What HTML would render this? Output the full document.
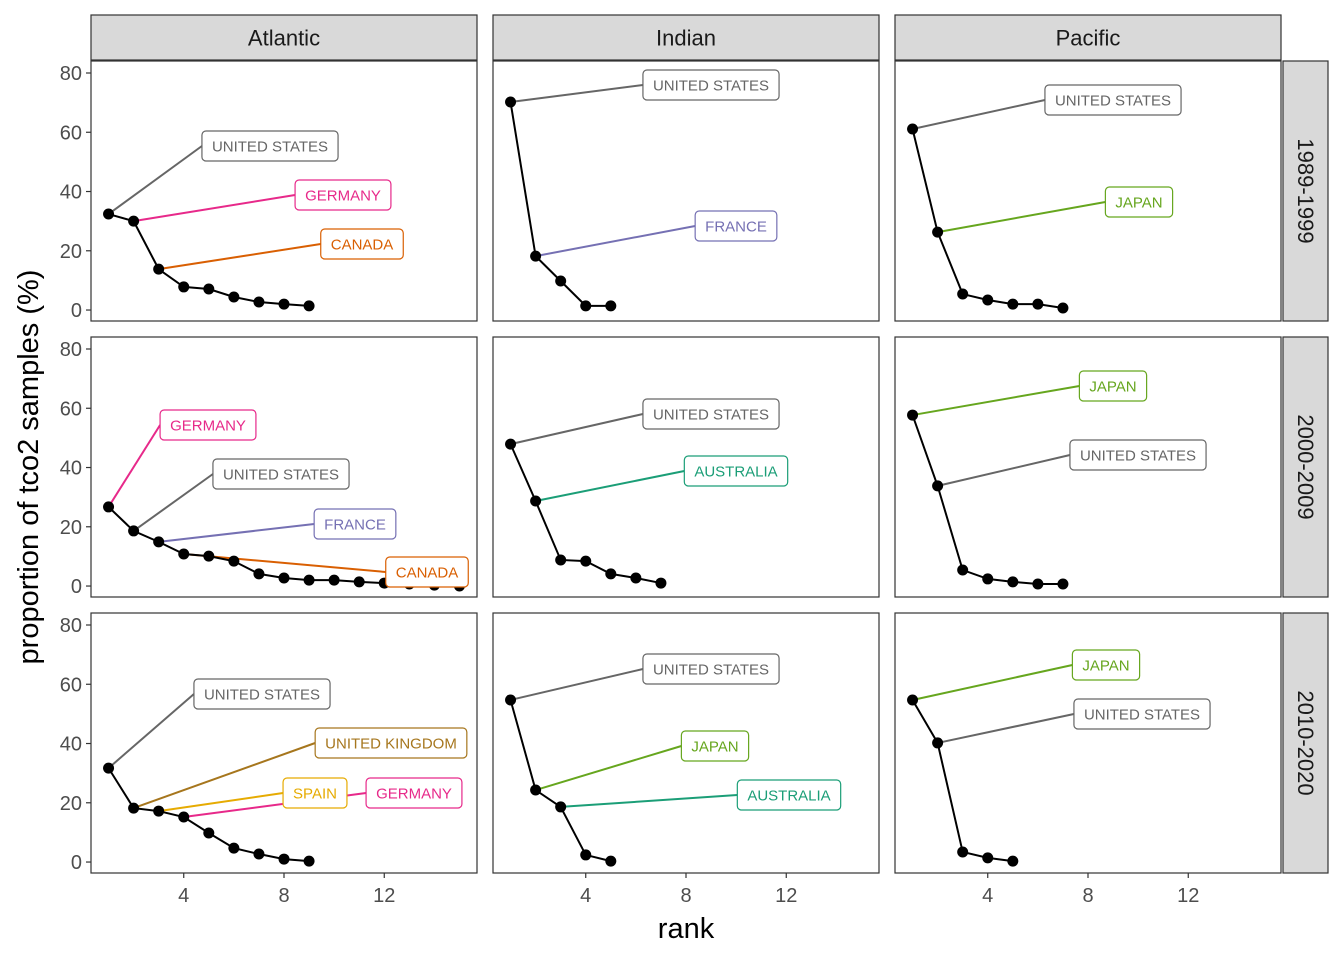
<!DOCTYPE html>
<html><head><meta charset="utf-8"><style>
html,body{margin:0;padding:0;background:#fff;}
svg{display:block;font-family:"Liberation Sans",Arial,sans-serif;}
</style></head><body>
<svg id="chart" width="1344" height="960"></svg>
<script>
const oceans = ["Atlantic","Indian","Pacific"];
const periods = ["1989-1999","2000-2009","2010-2020"];
const atl89 = [32.4,30,13.8,7.8,7.1,4.4,2.7,2,1.4];
const ind89 = [70.2,18.2,9.8,1.4,1.4];
const pac89 = [61.1,26.3,5.4,3.4,2,2,0.7];
const atl00 = [26.7,18.6,14.9,10.8,10.1,8.4,4.1,2.7,2,2,1.4,1,0.7,0.3,0];
const ind00 = [47.9,28.7,8.8,8.4,4.1,2.7,1];
const pac00 = [57.7,33.8,5.4,2.4,1.4,0.7,0.7];
const atl10 = [31.7,18.2,17.2,15.2,9.8,4.7,2.7,1,0.3];
const ind10 = [54.7,24.3,18.6,2.4,0.3];
const pac10 = [54.7,40.2,3.4,1.4,0.3];
const seriesGrid = [[atl89,ind89,pac89],[atl00,ind00,pac00],[atl10,ind10,pac10]];
// labels: [row, col, country, rank, labelCenterX, labelCenterY]
const labels = [
 [0,0,"UNITED STATES",1,270,146],[0,0,"GERMANY",2,343,195],[0,0,"CANADA",3,362,244],
 [0,1,"UNITED STATES",1,711,85],[0,1,"FRANCE",2,736,226],
 [0,2,"UNITED STATES",1,1113,100],[0,2,"JAPAN",2,1139,202],
 [1,0,"GERMANY",1,208,425],[1,0,"UNITED STATES",2,281,474],[1,0,"FRANCE",3,355,524],[1,0,"CANADA",4,427,572],
 [1,1,"UNITED STATES",1,711,414],[1,1,"AUSTRALIA",2,736,471],
 [1,2,"JAPAN",1,1113,386],[1,2,"UNITED STATES",2,1138,455],
 [2,0,"UNITED STATES",1,262,694],[2,0,"UNITED KINGDOM",2,391,743],[2,0,"SPAIN",3,315,793],[2,0,"GERMANY",4,414,793],
 [2,1,"UNITED STATES",1,711,669],[2,1,"JAPAN",2,715,746],[2,1,"AUSTRALIA",3,789,795],
 [2,2,"JAPAN",1,1106,665],[2,2,"UNITED STATES",2,1142,714]
];
const colors = {"UNITED STATES":"#666666","GERMANY":"#E7298A","CANADA":"#D95F02","FRANCE":"#7570B3","JAPAN":"#66A61E","AUSTRALIA":"#1B9E77","UNITED KINGDOM":"#A6761D","SPAIN":"#E6AB02"};
const xTicks = [4,8,12];
const yTicks = [0,20,40,60,80];

const NS="http://www.w3.org/2000/svg";
const svg=document.getElementById("chart");
function el(t,a,p){const e=document.createElementNS(NS,t);for(const k in a)e.setAttribute(k,a[k]);(p||svg).appendChild(e);return e;}
const colX=[91,493,895], PW=386;
const rowY=[61,337,613], PH=260;
const xMin=0.3,xMax=15.7,yMin=-3.7,yMax=84.05;
function sx(c,v){return colX[c]+(v-xMin)/(xMax-xMin)*PW;}
function sy(r,v){return rowY[r]+PH-(v-yMin)/(yMax-yMin)*PH;}

oceans.forEach((o,c)=>{
  const r=el("rect",{x:colX[c],y:15,width:PW,height:45,fill:"#d9d9d9",stroke:"#333","stroke-width":1.2});
  
  
  const t=el("text",{x:colX[c]+PW/2,y:45.5,"text-anchor":"middle","font-size":22,fill:"#1a1a1a"});
  t.textContent=o;
  
  
});
periods.forEach((p,r)=>{
  const rr=el("rect",{x:1283,y:rowY[r],width:45,height:PH,fill:"#d9d9d9",stroke:"#333","stroke-width":1.2});
  
  
  const cy=rowY[r]+PH/2;
  const t=el("text",{x:1298,y:cy,"text-anchor":"middle","font-size":22,fill:"#1a1a1a",transform:`rotate(90 1298 ${cy})`});
  t.textContent=p;
  
  
});

for(let r=0;r<3;r++)for(let c=0;c<3;c++){
  const g=el("g",{});
  
  
  el("rect",{x:colX[c],y:rowY[r],width:PW,height:PH,fill:"#fff",stroke:"#333","stroke-width":1.2},g);
  const d=seriesGrid[r][c];
  const ls=labels.filter(l=>l[0]===r&&l[1]===c);
  const segs=ls.map(l=>{
    const ln=el("line",{x1:sx(c,l[3]),y1:sy(r,d[l[3]-1]),x2:l[4],y2:l[5],stroke:colors[l[2]],"stroke-width":2},g);
    
    
    return ln;
  });
  const pts=d.map((v,i)=>sx(c,i+1)+","+sy(r,v)).join(" ");
  const pl=el("polyline",{points:pts,fill:"none",stroke:"#000","stroke-width":2},g);
  
  
  d.forEach((v,i)=>{
    const p=el("circle",{cx:sx(c,i+1),cy:sy(r,v),r:5.5,fill:"#000"},g);
    
    
  });
  ls.forEach((l,k)=>{
    const lg=el("g",{},g);
    
    
    const box=el("rect",{x:0,y:l[5]-15,height:30,rx:4,fill:"#fff",stroke:colors[l[2]],"stroke-width":1.2},lg);
    const t=el("text",{x:l[4],y:l[5]+5.5,"text-anchor":"middle","font-size":15,fill:colors[l[2]]},lg);
    t.textContent=l[2];
    const w=t.getComputedTextLength()+20;
    box.setAttribute("x",l[4]-w/2);box.setAttribute("width",w);
    segs[k].setAttribute("x2",l[4]-w/2);segs[k].setAttribute("y2",l[5]);
  });
  if(c===0){
    yTicks.forEach(v=>{
      const y=sy(r,v);
      el("line",{x1:colX[0]-5,x2:colX[0],y1:y,y2:y,stroke:"#333","stroke-width":1.2});
      const t=el("text",{x:colX[0]-9,y:y+7,"text-anchor":"end","font-size":20,fill:"#4d4d4d"});
      t.textContent=v;
      
      
    });
  }
  if(r===2){
    xTicks.forEach(v=>{
      const x=sx(c,v);
      el("line",{x1:x,x2:x,y1:rowY[2]+PH,y2:rowY[2]+PH+5,stroke:"#333","stroke-width":1.2});
      const t=el("text",{x:x,y:902,"text-anchor":"middle","font-size":20,fill:"#4d4d4d"});
      t.textContent=v;
      
      
    });
  }
}
const xt=el("text",{x:686,y:938,"text-anchor":"middle","font-size":29,fill:"#000"});
xt.textContent="rank";


const yt=el("text",{x:38,y:467,"text-anchor":"middle","font-size":29,fill:"#000",transform:"rotate(-90 38 467)"});
yt.textContent="proportion of tco2 samples (%)";


</script>
</body></html>
